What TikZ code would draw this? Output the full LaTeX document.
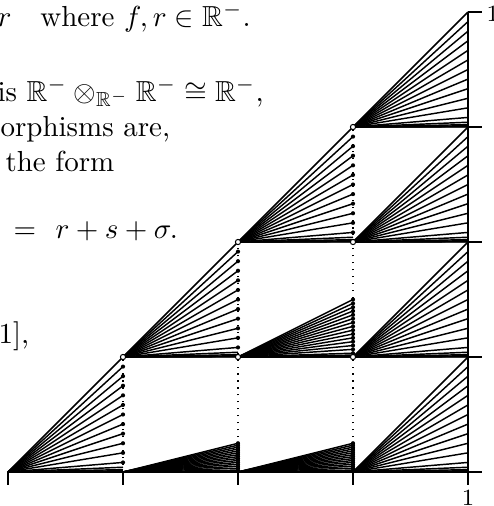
\documentclass[tikz,border=0pt]{standalone}
\usepackage{amssymb}
\tikzset{
  fan/.style={line width=0.5pt},
  guide/.style={dotted, line width=0.4pt},
  axisline/.style={line width=0.75pt},
  tickline/.style={line width=0.55pt},
  odot/.style={draw=black, fill=white, line width=0.35pt},
  txt/.style={anchor=base west, inner sep=0pt},
}
\begin{document}
\begin{tikzpicture}[x=0.345pt,y=-0.345pt]
\useasboundingbox (0,0) rectangle (494,506);
% dotted guides
\draw[guide] (123,472) -- (123,357);
\draw[guide] (238,472) -- (238,242);
\draw[guide] (353,472) -- (353,127);
% fans
\foreach \i/\j/\H/\N in {0/0/1/12, 1/1/1/12, 2/2/1/12, 3/3/1/12, 3/0/1/12, 3/1/1/12, 3/2/1/12, 1/0/0.25/15, 2/0/0.25/15, 2/1/0.5/15} {
  \pgfmathsetmacro\ox{8+115*\i}
  \pgfmathsetmacro\oy{472-115*\j}
  \foreach \k in {1,...,\N} \draw[fan] (\ox,\oy) -- ({\ox+115},{\oy-115*\H*\k/\N});
  \foreach \m in {1,...,6} \draw[fan] (\ox,\oy) -- ({\ox+115},{\oy-115*\H/\N/2^\m});
}
% axes
\draw[axisline] (8,472) -- (468,472);
\draw[axisline] (468,472) -- (468,12);
\foreach \t in {0,...,4} {
  \draw[tickline] ({8+115*\t},472) -- ({8+115*\t},485);
  \draw[tickline] (468,{472-115*\t}) -- (482,{472-115*\t});
}
\node[font=\footnotesize, inner sep=0pt] (xone) at (468,498) {1};
\node[font=\footnotesize, anchor=west, inner sep=0pt] (yone) at (486,14) {1};
% filled dots
\foreach \i in {0,1,2} {
  \foreach \k in {1,...,11} \fill ({8+115*(\i+1)},{472-115*\i-115*\k/12}) circle (0.72pt);
}
\foreach \i/\j/\H in {1/0/0.25, 2/0/0.25, 2/1/0.5} {
  \foreach \k in {1,...,15} \fill ({8+115*(\i+1)},{472-115*\j-115*\H*\k/15}) circle (0.72pt);
}
% open circles
\foreach \p in {(123,357),(238,357),(353,357),(238,242),(353,242),(353,127)}
  \draw[odot] \p circle (0.9pt);
% text
\node[txt] (ta) at (-3,26) {$r$\quad where $f,r\in\mathbb{R}^-$.};
\node[txt] (tb) at (-3,101) {is $\mathbb{R}^-\otimes_{\mathbb{R}^-}\mathbb{R}^-\cong\mathbb{R}^-$,};
\node[txt] (tc) at (0,136) {orphisms are,};
\node[txt] (td) at (5,171) {the form};
\node[txt] (te) at (13,238) {$=$};
\node[txt] (tf) at (55,238) {$r+s+\sigma.$};
\node[txt] (tg) at (-2,343) {1],};
\end{tikzpicture}
\end{document}
